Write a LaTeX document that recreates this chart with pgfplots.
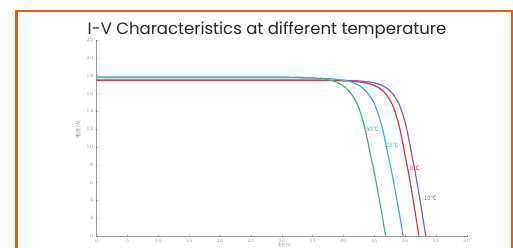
\documentclass[border=0pt]{standalone}
\usepackage{pgfplots}
\pgfplotsset{compat=1.18}
\usepackage{fontspec}
\setmainfont{Liberation Sans}
\newfontfamily\titlefont{Poppins}
\newfontfamily\cjk{Noto Sans CJK SC}
\definecolor{frameorange}{HTML}{E85A1E}
\definecolor{cgreen}{HTML}{3DB87A}
\definecolor{ccyan}{HTML}{3AB2DE}
\definecolor{cred}{HTML}{E5323E}
\definecolor{cpurple}{HTML}{8B5CB0}
\begin{document}
\begin{tikzpicture}[x=1pt,y=1pt]
\useasboundingbox (0,0) rectangle (513,247);
\clip (0,0) rectangle (513,247);
\fill[white] (0,0) rectangle (513,247);
\begin{axis}[
  at={(96.7pt,11pt)}, anchor=south west,
  scale only axis, width=370pt, height=196pt,
  xmin=0, xmax=60, ymin=0, ymax=22,
  axis lines=left,
  axis line style={-, gray!80, line width=0.5pt},
  xtick={0,5,...,60}, ytick={0,2,...,22},
  minor y tick num=1,
  tick style={gray!80, line width=0.4pt},
  major tick length=2pt, minor tick length=1.2pt,
  tick align=center,
  tick label style={font=\fontsize{4}{4}\selectfont, text=gray!80},
  xticklabel style={yshift=1.5pt},
  yticklabel style={xshift=1pt},
  clip=false,
]
\addplot[cpurple, line width=1.2pt, smooth] coordinates {
(0,17.5) (35.35,17.5) (39.85,17.48) (42.55,17.41) (44.35,17.27) (45.25,17.15) (46.15,16.94) (47.05,16.59) (47.95,16.01) (48.85,15.05) (49.3,14.35) (49.75,13.39) (50.2,12.25) (50.65,10.76) (51.1,9.10) (51.55,7.53) (52.0,5.78) (52.45,3.94) (52.9,2.02) (53.35,0)};
\addplot[cred, line width=1.2pt, smooth] coordinates {
(0,17.45) (34.25,17.45) (38.75,17.43) (41.45,17.36) (43.25,17.22) (44.15,17.10) (45.05,16.89) (45.95,16.54) (46.85,15.97) (47.75,15.01) (48.2,14.31) (48.65,13.35) (49.1,12.22) (49.55,10.73) (50.0,9.07) (50.45,7.50) (50.9,5.76) (51.35,3.93) (51.8,2.01) (52.25,0)};
\addplot[ccyan, line width=1.2pt, smooth] coordinates {
(0,17.75) (29.7,17.75) (34.7,17.73) (37.7,17.66) (39.7,17.52) (40.7,17.40) (41.7,17.18) (42.7,16.83) (43.7,16.24) (44.7,15.27) (45.2,14.56) (45.7,13.58) (46.2,12.43) (46.7,10.92) (47.2,9.23) (47.7,7.63) (48.2,5.86) (48.7,3.99) (49.2,2.04) (49.7,0)};
\addplot[cgreen, line width=1.2pt, smooth] coordinates {
(0,17.85) (26.85,17.85) (31.85,17.83) (34.85,17.76) (36.85,17.62) (37.85,17.49) (38.85,17.28) (39.85,16.92) (40.85,16.33) (41.85,15.35) (42.35,14.64) (42.85,13.66) (43.35,12.50) (43.85,10.98) (44.35,9.28) (44.85,7.68) (45.35,5.89) (45.85,4.02) (46.35,2.05) (46.85,0)};
\node[text=cgreen, font=\cjk\fontsize{6}{6}\selectfont, inner sep=0pt] at (axis cs:44.7,11.95) {50℃};
\node[text=ccyan, font=\cjk\fontsize{6}{6}\selectfont, inner sep=0pt] at (axis cs:47.95,10.2) {25℃};
\node[text=cred, font=\cjk\fontsize{6}{6}\selectfont, inner sep=0pt] at (axis cs:51.6,7.6) {0℃};
\node[text=cpurple, font=\cjk\fontsize{6}{6}\selectfont, inner sep=0pt] at (axis cs:53.95,4.25) {-10℃};
\node[rotate=90, text=gray!90, font=\cjk\fontsize{5}{5}\selectfont, inner sep=0pt] at (axis cs:-2.95,11.9) {电流 (A)};
\node[text=gray!90, font=\cjk\fontsize{3.6}{3.6}\selectfont, inner sep=0pt] at (axis cs:30.45,-1.06) {电压 (V)};
\end{axis}
\node[font=\titlefont\fontsize{16.5}{16.5}\selectfont, text=black!85, inner sep=0pt] at (267,216.5) {I-V Characteristics at different temperature};
\draw[frameorange, line width=2.6pt] (16.3,-5) -- (16.3,236) -- (512,236) -- (512,-5);
\end{tikzpicture}
\end{document}
